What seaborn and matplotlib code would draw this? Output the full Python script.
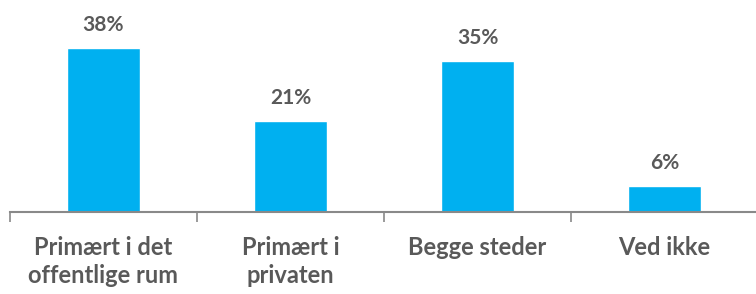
import matplotlib
matplotlib.use("Agg")
import matplotlib.pyplot as plt
import seaborn as sns
import pandas as pd

# chart data
categories = ["Primært i det\noffentlige rum", "Primært i\nprivaten", "Begge steder", "Ved ikke"]
values = [38, 21, 35, 6]
value_labels = ["38%", "21%", "35%", "6%"]

df = pd.DataFrame({"kategori": categories, "andel": values})

sns.set_style("white")
plt.rcParams['font.family'] = ['Lato', 'DejaVu Sans']

fig = plt.figure(figsize=(7.56, 2.94), dpi=100)
ax = fig.add_axes([10 / 756, 82 / 294, 748 / 756, 212 / 294])

sns.barplot(data=df, x="kategori", y="andel", color="#00B0F0", width=0.39,
            saturation=1, ax=ax)

# value labels above bars
for i, (v, lab) in enumerate(zip(values, value_labels)):
    ax.text(i, v + 3.0, lab, ha="center", va="bottom", fontsize=15,
            fontweight="bold", color="#595959")

ax.set_xlim(-0.5, 3.5)
ax.set_ylim(0, 49)
ax.set_xlabel("")
ax.set_ylabel("")
ax.set_yticks([])

# category boundaries as tick marks, labels centred without ticks
ax.set_xticks([-0.5, 0.5, 1.5, 2.5, 3.5], minor=True)
ax.tick_params(axis="x", which="minor", length=7, width=1.2, color="#898989",
               direction="out", bottom=True)
ax.tick_params(axis="x", which="major", length=0, pad=17, labelsize=17,
               labelcolor="#595959")
for t in ax.get_xticklabels():
    t.set_fontweight("bold")
    t.set_linespacing(1.3)
    t.set_va("top")

for side in ["top", "right", "left"]:
    ax.spines[side].set_visible(False)
ax.spines["bottom"].set_color("#898989")
ax.spines["bottom"].set_linewidth(1.5)

fig.savefig("out.png", dpi=100)
